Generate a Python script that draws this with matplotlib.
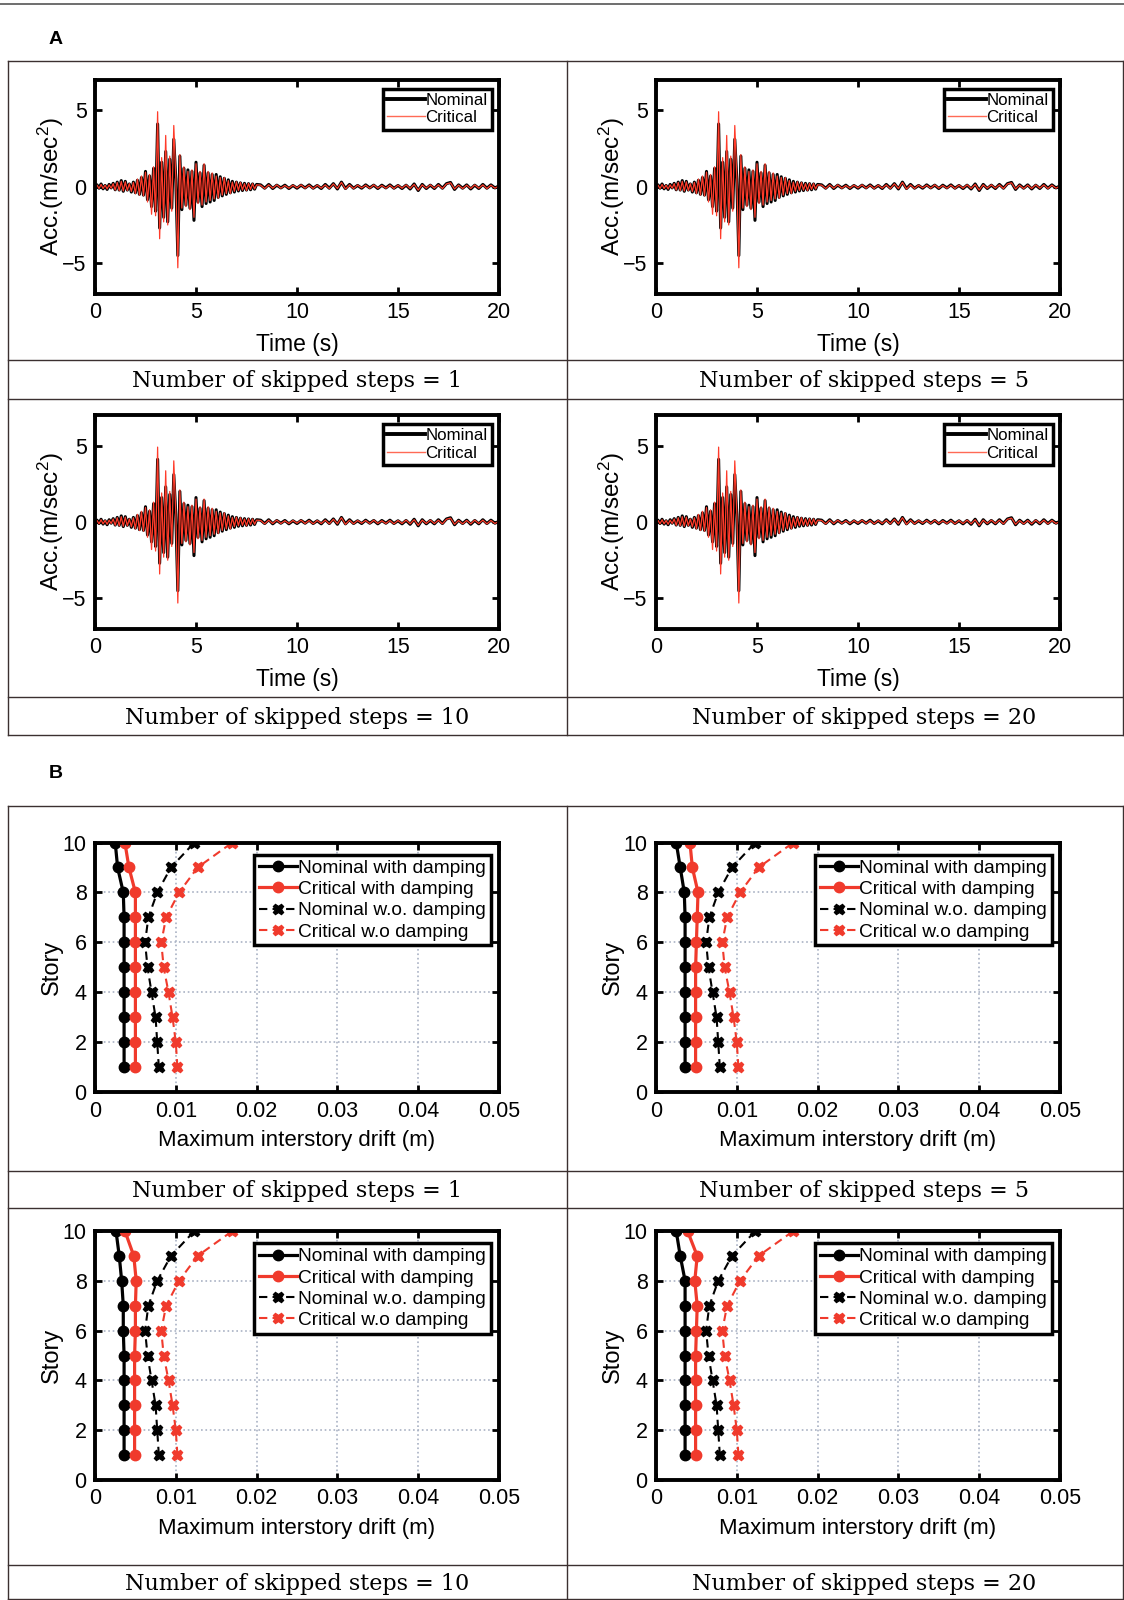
import numpy as np
import matplotlib.pyplot as plt
from matplotlib.lines import Line2D

plt.rcParams['font.family'] = ['Liberation Sans', 'DejaVu Sans']
plt.rcParams['mathtext.default'] = 'regular'

W, H = 1124, 1600

# ---- ground acceleration record ----
# 0.0 .. 8.0 s, every 0.1 s
acc_nominal_strong = [
    0.00, 0.12, -0.10, 0.18, -0.14, 0.08, -0.18, 0.15, -0.08, 0.22,
    -0.20, 0.30, -0.22, 0.40, -0.30, 0.35, -0.22, 0.18, -0.35, 0.30,
    -0.40, 0.42, -0.50, 0.60, -0.55, 1.00, -0.85, 0.70, -1.30, 1.20,
    -1.60, 4.10, -2.70, 1.60, -2.00, 2.30, -2.30, 1.80, -1.40, 3.10,
    0.50, -4.50, 2.00, -1.50, 1.20, -1.20, 1.10, -1.40, 1.00, -2.20,
    1.60, -1.00, 0.90, -1.30, 1.40, -1.10, 0.90, -1.00, 0.80, -0.90,
    0.80, -0.70, 0.65, -0.60, 0.55, -0.50, 0.45, -0.40, 0.35, -0.35,
    0.30, -0.28, 0.25, -0.25, 0.22, -0.22, 0.20, -0.20, 0.18, -0.16,
    0.15]
acc_critical_strong = [
    0.00, 0.10, -0.12, 0.15, -0.12, 0.10, -0.15, 0.12, -0.10, 0.20,
    -0.22, 0.28, -0.25, 0.35, -0.28, 0.32, -0.25, 0.20, -0.32, 0.28,
    -0.45, 0.50, -0.55, 0.70, -0.60, 0.95, -1.00, 0.80, -1.80, 1.30,
    -1.90, 4.90, -3.40, 1.90, -2.30, 3.35, -2.50, 2.00, -1.60, 4.00,
    0.60, -5.30, 2.10, -1.40, 1.30, -1.30, 1.00, -1.50, 1.10, -2.00,
    1.50, -1.10, 1.00, -1.20, 1.50, -1.00, 1.00, -0.90, 0.90, -0.80,
    0.70, -0.75, 0.60, -0.55, 0.60, -0.45, 0.40, -0.45, 0.30, -0.30,
    0.32, -0.25, 0.28, -0.22, 0.20, -0.25, 0.22, -0.18, 0.20, -0.15,
    0.12]
# 8.2 .. 20.0 s, every 0.2 s
acc_nominal_tail = [
    0.12, -0.10, 0.15, -0.12, 0.10, -0.08, 0.10, -0.12, 0.08, -0.10,
    0.10, -0.08, 0.12, -0.10, 0.08, -0.12, 0.15, -0.10, 0.20, -0.15,
    0.30, -0.12, 0.15, -0.10, 0.08, -0.10, 0.12, -0.08, 0.10, -0.12,
    0.10, -0.08, 0.12, -0.10, 0.08, -0.12, 0.10, -0.15, 0.18, -0.25,
    0.15, -0.12, 0.10, -0.12, 0.15, -0.10, 0.20, 0.28, -0.18, 0.12,
    -0.10, 0.12, -0.15, 0.10, -0.12, 0.15, -0.10, 0.12, -0.08, 0.05]
acc_critical_tail = [
    0.10, -0.12, 0.12, -0.10, 0.12, -0.10, 0.08, -0.10, 0.10, -0.08,
    0.12, -0.10, 0.10, -0.12, 0.10, -0.10, 0.12, -0.12, 0.18, -0.12,
    0.28, -0.15, 0.12, -0.12, 0.10, -0.08, 0.10, -0.10, 0.12, -0.10,
    0.08, -0.10, 0.10, -0.12, 0.10, -0.10, 0.12, -0.12, 0.15, -0.22,
    0.12, -0.10, 0.12, -0.10, 0.12, -0.12, 0.18, 0.25, -0.15, 0.10,
    -0.12, 0.10, -0.12, 0.12, -0.10, 0.12, -0.12, 0.10, -0.10, 0.05]

acc_time = np.concatenate([np.arange(len(acc_nominal_strong)) * 0.1,
                           8.2 + np.arange(len(acc_nominal_tail)) * 0.2])
acc_nominal = acc_nominal_strong + acc_nominal_tail
acc_critical = acc_critical_strong + acc_critical_tail

# ---- maximum interstory drift (m), stories 1..10 ----
stories = [1, 2, 3, 4, 5, 6, 7, 8, 9, 10]
nom_wo_damping = [0.0079, 0.0077, 0.0075, 0.0070, 0.0065, 0.0062, 0.0066, 0.0077, 0.0094, 0.0123]
crit_wo_damping = [0.0102, 0.0100, 0.0096, 0.0091, 0.0085, 0.0082, 0.0088, 0.0104, 0.0127, 0.0170]
nom_damping = {
    1: [0.0036, 0.0036, 0.0036, 0.0036, 0.0036, 0.0036, 0.0036, 0.0035, 0.0028, 0.0025],
    5: [0.0036, 0.0036, 0.0036, 0.0036, 0.0036, 0.0036, 0.0036, 0.0035, 0.0030, 0.0025],
    10: [0.0036, 0.0036, 0.0036, 0.0036, 0.0036, 0.0035, 0.0035, 0.0033, 0.0030, 0.0026],
    20: [0.0036, 0.0036, 0.0036, 0.0036, 0.0036, 0.0036, 0.0036, 0.0036, 0.0030, 0.0025],
}
crit_damping = {
    1: [0.0050, 0.0050, 0.0050, 0.0050, 0.0050, 0.0050, 0.0050, 0.0050, 0.0042, 0.0037],
    5: [0.0049, 0.0049, 0.0049, 0.0049, 0.0049, 0.0050, 0.0051, 0.0052, 0.0045, 0.0042],
    10: [0.0049, 0.0049, 0.0049, 0.0049, 0.0049, 0.0050, 0.0050, 0.0051, 0.0048, 0.0037],
    20: [0.0049, 0.0049, 0.0049, 0.0049, 0.0049, 0.0050, 0.0051, 0.0048, 0.0051, 0.0039],
}
skipped_steps = [1, 5, 10, 20]

RED = '#f03a2c'
LINE = '#3b3030'
CAPTION_FONT = dict(family='DejaVu Serif', fontsize=16)


def frac(x0, y0, x1, y1):
    return [x0 / W, 1 - y1 / H, (x1 - x0) / W, (y1 - y0) / H]


def style_axes(ax):
    for s in ax.spines.values():
        s.set_linewidth(2.8)
    ax.tick_params(direction='in', top=True, right=True, length=5, width=2,
                   labelsize=15.5, pad=6)


def draw_acc(ax):
    ax.plot(acc_time, acc_nominal, color='black', lw=2.2)
    ax.plot(acc_time, acc_critical, color='#ff3b2a', lw=0.9)
    ax.set_xlim(0, 20)
    ax.set_ylim(-7, 7)
    ax.set_xticks([0, 5, 10, 15, 20])
    ax.set_yticks([-5, 0, 5])
    ax.set_xlabel('Time (s)', fontsize=16.5, labelpad=7)
    ax.set_ylabel('Acc.(m/sec$^{2}$)', fontsize=17.5, labelpad=-3)
    style_axes(ax)
    handles = [Line2D([], [], color='black', lw=2.8),
               Line2D([], [], color='#ff6a55', lw=1.0)]
    leg = ax.legend(handles, ['Nominal', 'Critical'], loc='upper right',
                    bbox_to_anchor=(0.982, 0.958), borderaxespad=0,
                    fontsize=12.2, handlelength=2.2, handletextpad=0.05,
                    labelspacing=0.15, borderpad=0.25, fancybox=False,
                    framealpha=1)
    leg.get_frame().set_edgecolor('black')
    leg.get_frame().set_linewidth(2.5)


def draw_drift(ax, n):
    ax.grid(True, color='#a9b2c4', ls=':', lw=1.2)
    ax.set_axisbelow(True)
    ax.plot(nom_damping[n], stories, color='black', lw=2.3, marker='o', ms=7.5,
            label='Nominal with damping')
    ax.plot(crit_damping[n], stories, color=RED, lw=2.3, marker='o', ms=7.5,
            label='Critical with damping')
    ax.plot(nom_wo_damping, stories, color='black', lw=1.5, ls=(0, (4, 2.5)),
            marker='X', ms=7.5, label='Nominal w.o. damping')
    ax.plot(crit_wo_damping, stories, color=RED, lw=1.5, ls=(0, (4, 2.5)),
            marker='X', ms=7.5, label='Critical w.o damping')
    ax.set_xlim(0, 0.05)
    ax.set_ylim(0, 10)
    ax.set_xticks([0, 0.01, 0.02, 0.03, 0.04, 0.05])
    ax.set_xticklabels(['0', '0.01', '0.02', '0.03', '0.04', '0.05'])
    ax.set_yticks([0, 2, 4, 6, 8, 10])
    ax.set_xlabel('Maximum interstory drift (m)', fontsize=16, labelpad=6)
    ax.set_ylabel('Story', fontsize=17, labelpad=0)
    style_axes(ax)
    leg = ax.legend(loc='upper right', bbox_to_anchor=(0.979, 0.951),
                    borderaxespad=0, fontsize=13.8, handlelength=2.0,
                    handletextpad=0.05, labelspacing=0.2, borderpad=0.25,
                    fancybox=False, framealpha=1, numpoints=1)
    leg.get_frame().set_edgecolor('black')
    leg.get_frame().set_linewidth(2.5)


fig = plt.figure(figsize=(W / 100, H / 100), dpi=100)


def hline(y, x0=8, x1=1123, color=LINE, lw=1.0):
    fig.add_artist(Line2D([x0 / W, x1 / W], [1 - y / H, 1 - y / H],
                          color=color, lw=lw))


def vline(x, y0, y1):
    fig.add_artist(Line2D([x / W, x / W], [1 - y0 / H, 1 - y1 / H],
                          color=LINE, lw=1.0))


# table frame
hline(4, 0, 1124, color='#555555', lw=1.2)
for y in [61, 360, 399, 697, 735]:
    hline(y)
for x in [8, 567, 1123]:
    vline(x, 61, 735)
for y in [806, 1171, 1208, 1565, 1599]:
    hline(y)
for x in [8, 567, 1123]:
    vline(x, 806, 1600)

fig.text(49 / W, 1 - 39 / H, 'A', fontsize=14, fontweight='bold', va='center')
fig.text(49 / W, 1 - 773 / H, 'B', fontsize=14, fontweight='bold', va='center')

cols = [(95, 499, 297), (656, 1060, 864)]
acc_rows = [(79.6, 293.8, 381), (415, 629, 717.5)]
drift_rows = [(842.5, 1092.4, 1190.5), (1231, 1480, 1584)]

k = 0
for (y0, y1, yc) in acc_rows:
    for (x0, x1, xc) in cols:
        ax = fig.add_axes(frac(x0, y0, x1, y1))
        draw_acc(ax)
        fig.text(xc / W, 1 - yc / H, f'Number of skipped steps = {skipped_steps[k]}',
                 ha='center', va='center', **CAPTION_FONT)
        k += 1

k = 0
for (y0, y1, yc) in drift_rows:
    for (x0, x1, xc) in cols:
        ax = fig.add_axes(frac(x0, y0, x1, y1))
        draw_drift(ax, skipped_steps[k])
        fig.text(xc / W, 1 - yc / H, f'Number of skipped steps = {skipped_steps[k]}',
                 ha='center', va='center', **CAPTION_FONT)
        k += 1

fig.savefig('out.png', dpi=100)
